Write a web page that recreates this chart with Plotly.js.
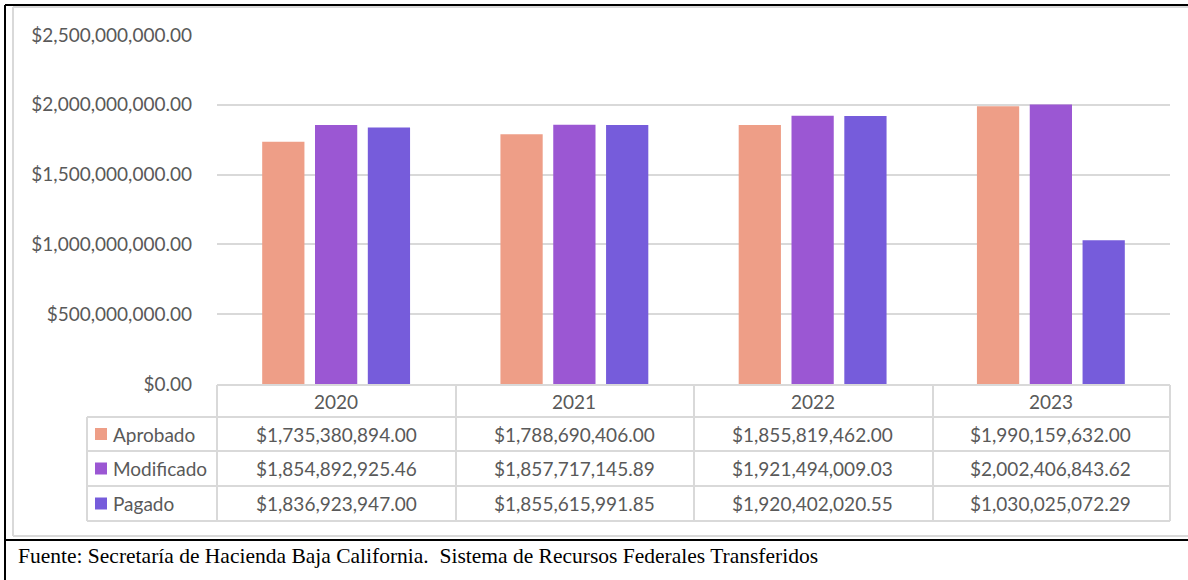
<!DOCTYPE html>
<html>
<head>
<meta charset="utf-8">
<script src="https://cdn.plot.ly/plotly-3.0.1.min.js"></script>
<style>html,body{margin:0;padding:0;background:#fff;}#chart{width:1188px;height:580px;}</style>
</head>
<body>
<div id="chart"></div>
<script>
const years = ['2020', '2021', '2022', '2023'];
const seriesNames = ['Aprobado', 'Modificado', 'Pagado'];
const aprobado = [1735380894.00, 1788690406.00, 1855819462.00, 1990159632.00];
const modificado = [1854892925.46, 1857717145.89, 1921494009.03, 2002406843.62];
const pagado = [1836923947.00, 1855615991.85, 1920402020.55, 1030025072.29];
const colors = ['#EE9E87', '#9B57D3', '#765CDB'];
const footnote = 'Fuente: Secretaría de Hacienda Baja California.\u00a0 Sistema de Recursos Federales Transferidos';

const values = [aprobado, modificado, pagado];

// plot area geometry in pixels
const W = 1188, H = 580;
const L = 217, R = 1170, T = 35, B = 384;
const px = x => (x - L) / (R - L);
const py = y => (B - y) / (B - T);

const font = 'Lato, "Open Sans", sans-serif';
const fs = 19;
const txtColor = '#595959';
const grid = '#D9D9D9';

const traces = seriesNames.map((n, i) => ({
  type: 'bar', name: n, x: years, y: values[i],
  marker: {color: colors[i]}, hoverinfo: 'skip'
}));

function fmt(v) {
  return '$' + v.toLocaleString('en-US', {minimumFractionDigits: 2, maximumFractionDigits: 2});
}

const shapes = [];
const annotations = [];
function line(x0, y0, x1, y1, color, width) {
  shapes.push({type: 'line', xref: 'paper', yref: 'paper', x0: px(x0), y0: py(y0), x1: px(x1), y1: py(y1),
    line: {color: color, width: width}, layer: 'above'});
}
// outer frame (black)
line(5, 5, W + 5, 5, '#000', 2);
line(5, 5, 5, H + 5, '#000', 2);
line(5, 540, W + 5, 540, '#000', 2);
// chart area border (gray)
line(13, 7, W + 5, 7, grid, 2);
line(13, 7, 13, 536, grid, 2);
line(13, 536, W + 5, 536, grid, 2);

// data table
const colX = [217, 456, 694, 933, 1170];
const rowY = [385, 417, 451, 486, 521];
line(217, 385, 1170, 385, grid, 2);
for (let r = 1; r < rowY.length; r++) line(87, rowY[r], 1170, rowY[r], grid, 2);
line(87, 417, 87, 521, grid, 2);
colX.forEach(x => line(x, 385, x, 521, grid, 2));

years.forEach((yr, c) => {
  annotations.push({xref: 'x', yref: 'paper', x: c, y: py(402), text: yr, showarrow: false,
    font: {family: font, size: fs, color: txtColor}, xanchor: 'center', yanchor: 'middle'});
});
seriesNames.forEach((n, r) => {
  const yc = (rowY[r + 1] + rowY[r + 2]) / 2;
  shapes.push({type: 'rect', xref: 'paper', yref: 'paper', x0: px(95), x1: px(107), y0: py(yc - 6), y1: py(yc + 6),
    fillcolor: colors[r], line: {width: 0}, layer: 'above'});
  annotations.push({xref: 'paper', yref: 'paper', x: px(111), y: py(yc), text: n, showarrow: false,
    font: {family: font, size: fs, color: txtColor}, xanchor: 'left', yanchor: 'middle'});
  years.forEach((yr, c) => {
    annotations.push({xref: 'x', yref: 'paper', x: c, y: py(yc), text: fmt(values[r][c]), showarrow: false,
      font: {family: font, size: fs, color: txtColor}, xanchor: 'center', yanchor: 'middle'});
  });
});
annotations.push({xref: 'paper', yref: 'paper', x: px(16), y: py(556), text: footnote, showarrow: false,
  font: {family: '"Liberation Serif", "Times New Roman", serif', size: 21.5, color: '#000'}, xanchor: 'left', yanchor: 'middle'});

const layout = {
  width: W, height: H,
  margin: {l: L, r: W - R, t: T, b: H - B},
  paper_bgcolor: '#fff', plot_bgcolor: '#fff',
  showlegend: false,
  barmode: 'group', bargap: 0.335, bargroupgap: 0.2,
  xaxis: {type: 'category', range: [-0.5, years.length - 0.5], autorange: false,
    showticklabels: false, showgrid: false, zeroline: false, showline: false, ticks: ''},
  yaxis: {range: [0, 2.5e9], autorange: false, dtick: 5e8, tickformat: '$,.2f', showgrid: true, gridcolor: grid, gridwidth: 2,
    zeroline: false, showline: false, ticklabelstandoff: 24,
    tickfont: {family: font, size: fs, color: txtColor}},
  shapes: shapes, annotations: annotations,
  font: {family: font}
};

Plotly.newPlot('chart', traces, layout, {displayModeBar: false, staticPlot: true});
</script>
</body>
</html>
